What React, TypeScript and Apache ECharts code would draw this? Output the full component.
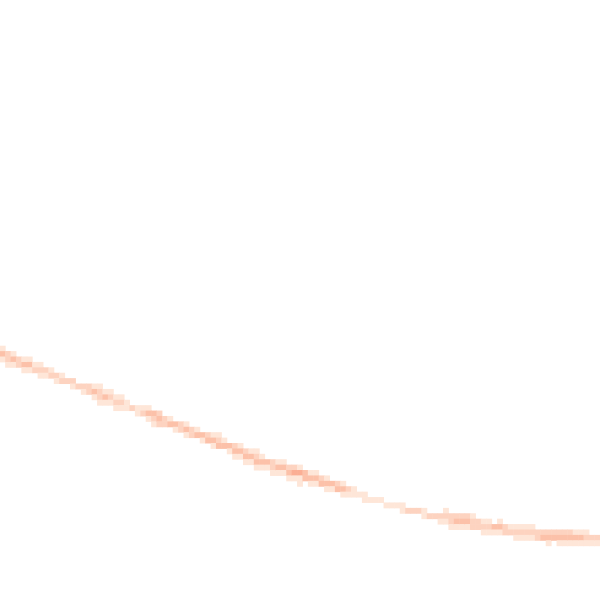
import React, { useEffect, useRef } from "react";
import * as echarts from "echarts";

// Heatmap grid of 111 x 111 cells; each column holds a short vertical run of cells.
const gridSize = 111;

// Topmost filled row of each column (0..110)
const bandTopRow = [
  64, 65, 65, 66, 66, 66, 67, 67, 68, 68,
  69, 69, 70, 70, 71, 71, 71, 71, 71, 72,
  72, 73, 73, 74, 75, 75, 75, 75, 76, 76,
  77, 77, 78, 78, 78, 79, 79, 80, 80, 80,
  80, 81, 82, 82, 82, 83, 83, 83, 84, 85,
  85, 85, 85, 86, 86, 86, 87, 87, 87, 88,
  88, 89, 89, 89, 90, 90, 91, 91, 92, 92,
  92, 93, 93, 93, 93, 94, 94, 94, 94, 95,
  95, 95, 94, 95, 95, 95, 95, 95, 96, 96,
  96, 97, 96, 97, 97, 97, 97, 97, 97, 98,
  98, 98, 98, 98, 98, 98, 98, 98, 98, 99,
  99,
];

// Cell intensities for each column, from the top row downward
const bandValues: number[][] = [
  [1, 3, 1], [2, 2, 1], [1, 3, 1], [2, 2], [1, 3, 1], [1, 3, 1], [1, 2], [1, 2, 1], [2, 1], [1, 2],
  [2, 1], [1, 2], [2], [2, 1], [2], [2, 1], [2, 2], [1, 3, 1], [1, 2, 2, 1], [1, 3, 1],
  [1, 2, 1], [1, 2, 1], [1, 2, 1], [1, 1], [2], [1, 1], [1, 2], [1, 3, 1], [3, 2, 1], [2, 3, 2],
  [2, 2], [1, 3], [3, 1], [2, 2], [1, 3, 1], [2, 2], [1, 3], [3, 1], [2, 3], [1, 3, 1],
  [1, 2, 3], [1, 3], [3, 1], [2, 3, 1], [1, 3, 1], [2, 3, 1], [1, 3, 1], [1, 2, 3, 1], [1, 3, 1], [3, 1],
  [2, 2, 1], [1, 3, 1], [1, 3, 1], [2, 3, 1], [2, 4, 1], [1, 4, 1, 1], [3, 3], [1, 3, 1], [1, 3, 1], [2, 3],
  [1, 3, 1], [3, 1], [2, 3], [1, 3, 1], [2, 1], [1, 1], [1], [1, 1], [1], [1],
  [1], [1], [1], [1], [1, 1], [2], [2], [2], [1, 1], [2],
  [2], [2, 1], [1, 2, 1], [2, 2, 1], [2, 3, 1], [2, 3, 1], [2, 3, 1], [1, 2, 2], [2, 2], [1, 2, 1],
  [1, 2, 1], [3, 1], [1, 3, 1], [2, 2], [1, 2], [1, 2, 1], [1, 2, 1], [1, 2, 1], [1, 2, 1], [2, 2],
  [2, 3], [2, 3, 1], [2, 3], [2, 3, 1], [2, 3, 1], [2, 3, 1], [1, 3, 1], [1, 3, 1], [1, 2, 1], [2, 1],
  [2, 1],
];

const colorScale = ["#fee6d8", "#fdd3c0", "#fcc1a9", "#fbae94"];

export default function App() {
  const ref = useRef<HTMLDivElement>(null);
  useEffect(() => {
    if (!ref.current) return;
    document.body.style.margin = "0";
    const chart = echarts.init(ref.current, undefined, { renderer: "svg" });
    const cats = Array.from({ length: gridSize }, (_, i) => String(i));
    const data: number[][] = [];
    bandValues.forEach((vals, col) => {
      vals.forEach((v, k) => {
        data.push([col, bandTopRow[col] + k, v]);
      });
    });
    chart.setOption({
      animation: false,
      backgroundColor: "#ffffff",
      grid: { left: 0, right: 0, top: 0, bottom: 0 },
      xAxis: { type: "category", data: cats, show: false },
      yAxis: { type: "category", data: cats, show: false, inverse: true },
      visualMap: {
        show: false,
        min: 1,
        max: 4,
        dimension: 2,
        inRange: { color: colorScale },
      },
      tooltip: { show: false },
      series: [
        {
          type: "heatmap",
          data,
          emphasis: { disabled: true },
          itemStyle: { borderWidth: 0 },
        },
      ],
    });
    return () => chart.dispose();
  }, []);
  return (
    <div
      ref={ref}
      style={{ position: "fixed", left: 0, top: 0, width: 600, height: 600 }}
    />
  );
}
